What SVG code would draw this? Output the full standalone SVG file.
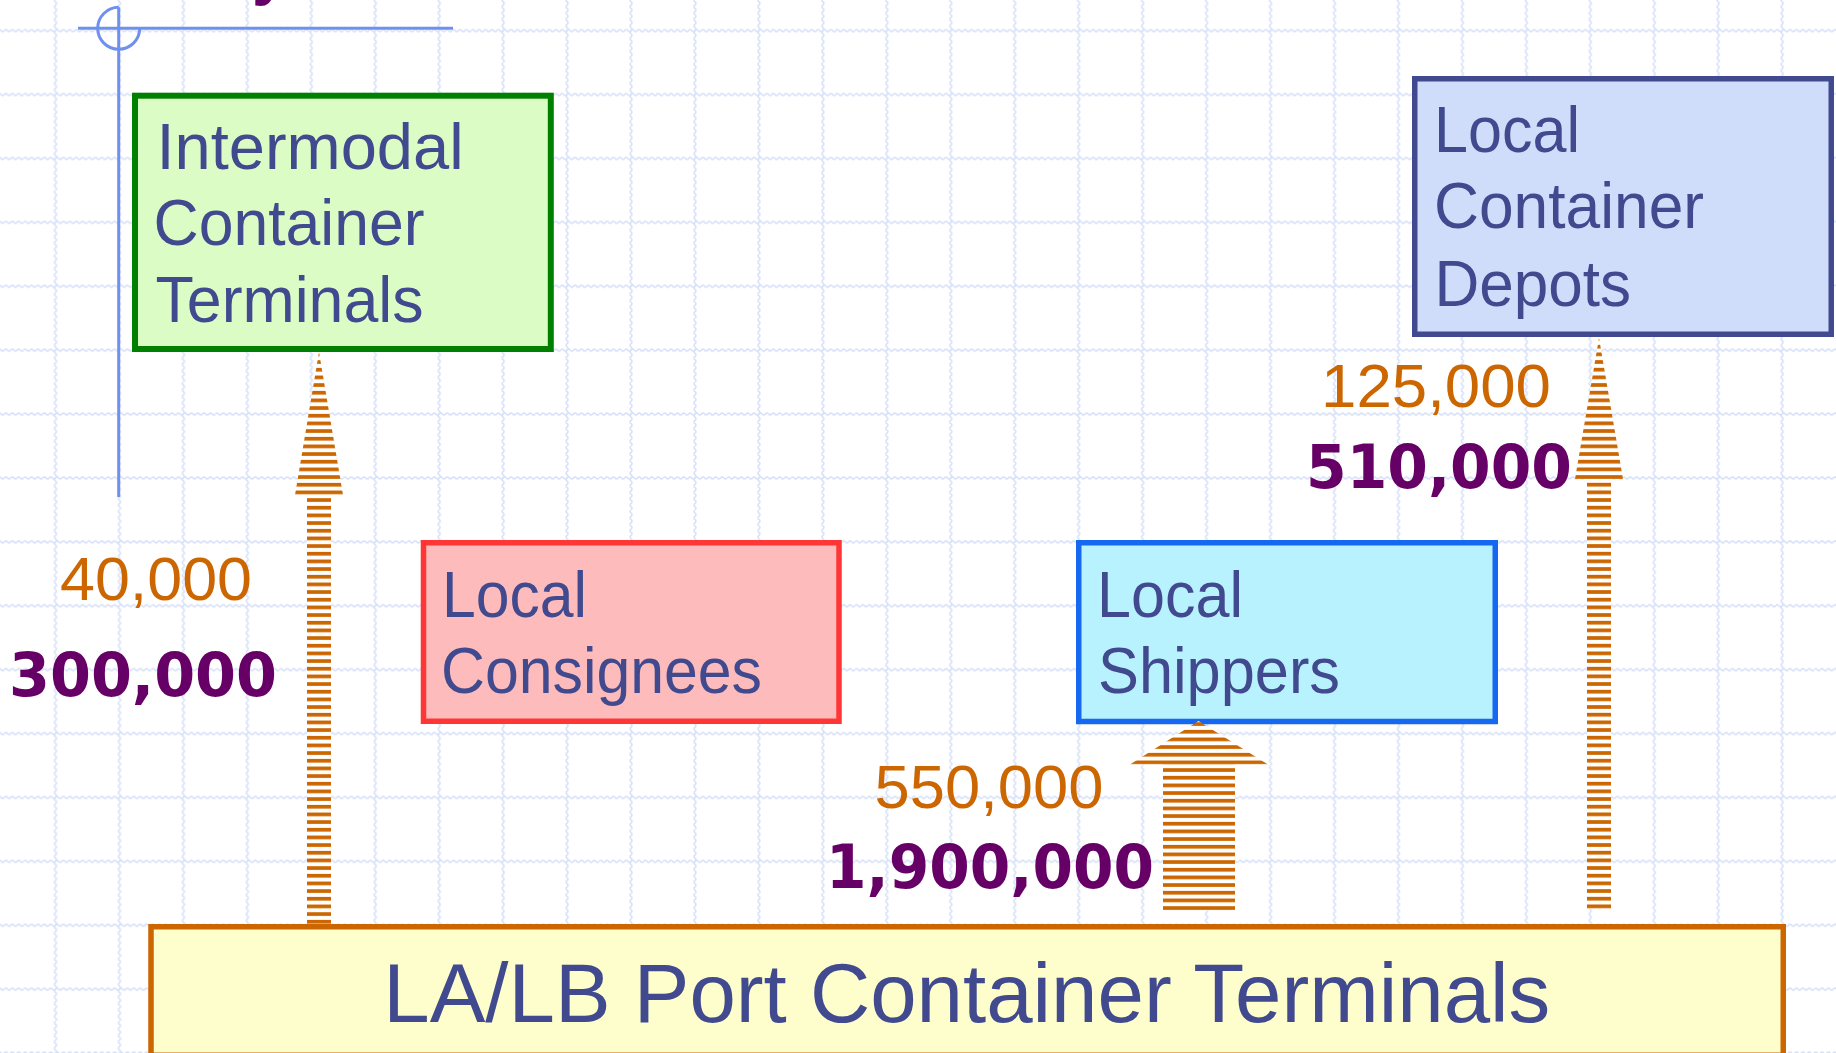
<svg xmlns="http://www.w3.org/2000/svg" width="1836" height="1053" viewBox="0 0 1836 1053">
<style>
.bx{font-family:"Liberation Sans",Arial,sans-serif;font-size:65px;fill:#414A8E}
.port{font-family:"Liberation Sans",Arial,sans-serif;font-size:84px;fill:#414A8E}
.num{font-family:"Liberation Sans",Arial,sans-serif;font-size:62px;fill:#CC6600}
.big{font-family:"DejaVu Sans",Verdana,sans-serif;font-weight:bold;font-size:61px;fill:#660066}
.axis{fill:none;stroke:#7090F0;stroke-width:3}
.node rect{stroke-width:5.5}
</style>
<defs>
<pattern id="grid" patternUnits="userSpaceOnUse" x="23.5" y="-1.3" width="63.95" height="63.9">
<path d="M0,32 q1.6,-2 3.1975,0 t3.1975,0 t3.1975,0 t3.1975,0 t3.1975,0 t3.1975,0 t3.1975,0 t3.1975,0 t3.1975,0 t3.1975,0 t3.1975,0 t3.1975,0 t3.1975,0 t3.1975,0 t3.1975,0 t3.1975,0 t3.1975,0 t3.1975,0 t3.1975,0 t3.1975,0" fill="none" stroke="#D5DFF8" stroke-width="1.5"/>
<path d="M32,0 q-2,1.5975 0,3.195 t0,3.195 t0,3.195 t0,3.195 t0,3.195 t0,3.195 t0,3.195 t0,3.195 t0,3.195 t0,3.195 t0,3.195 t0,3.195 t0,3.195 t0,3.195 t0,3.195 t0,3.195 t0,3.195 t0,3.195 t0,3.195 t0,3.195" fill="none" stroke="#D5DFF8" stroke-width="1.5"/>
</pattern>
<pattern id="st1" patternUnits="userSpaceOnUse" x="0" y="360.2" width="40" height="7.667">
<rect width="40" height="7.667" fill="#FFFFFF"/><rect width="40" height="3.7" fill="#CC6600"/>
</pattern>
<pattern id="st3" patternUnits="userSpaceOnUse" x="0" y="768.2" width="40" height="7.667">
<rect width="40" height="7.667" fill="#FFFFFF"/><rect width="40" height="3.7" fill="#CC6600"/>
</pattern>
<pattern id="st4" patternUnits="userSpaceOnUse" x="0" y="904.5" width="40" height="7.667">
<rect width="40" height="7.667" fill="#FFFFFF"/><rect width="40" height="3.7" fill="#CC6600"/>
</pattern>
</defs>

<rect width="1836" height="1053" fill="#FFFFFF"/>
<rect id="background-grid" width="1836" height="1053" fill="url(#grid)"/>

<g id="title-fragment">
<text x="252" y="-7" style="font-family:'Liberation Sans',Arial,sans-serif;font-weight:bold;font-size:64px;fill:#660066">y</text>
</g>

<g id="axis-decoration">
<line class="axis" x1="118.7" y1="7.3" x2="118.7" y2="497"/>
<line class="axis" x1="78" y1="28.3" x2="453" y2="28.3"/>
<path class="axis" stroke-width="2.4" d="M118.7,7.3 A21,21 0 1,0 139.7,28.3"/>
</g>

<g id="node-intermodal" class="node">
<rect x="135" y="95.7" width="415.8" height="253.3" fill="#DCFCC6" stroke="#008000" style="stroke-width:6"/>
<text class="bx" x="156.5" y="169">Intermodal</text>
<text class="bx" x="153.5" y="245" textLength="271" lengthAdjust="spacingAndGlyphs">Container</text>
<text class="bx" x="155.5" y="321.7" textLength="268" lengthAdjust="spacingAndGlyphs">Terminals</text>
</g>

<g id="node-depots" class="node">
<rect x="1414.75" y="78.75" width="416.5" height="255.5" fill="#CFDCFA" stroke="#414A8E"/>
<text class="bx" x="1434" y="151.7" textLength="146" lengthAdjust="spacingAndGlyphs">Local</text>
<text class="bx" x="1434" y="228" textLength="270" lengthAdjust="spacingAndGlyphs">Container</text>
<text class="bx" x="1434.5" y="306" textLength="196.5" lengthAdjust="spacingAndGlyphs">Depots</text>
</g>

<g id="node-consignees" class="node">
<rect x="423.5" y="542.75" width="415.5" height="178.5" fill="#FDBBBB" stroke="#FF3636"/>
<text class="bx" x="442" y="616.7" textLength="145" lengthAdjust="spacingAndGlyphs">Local</text>
<text class="bx" x="441" y="693.3" textLength="321" lengthAdjust="spacingAndGlyphs">Consignees</text>
</g>

<g id="node-shippers" class="node">
<rect x="1078.75" y="542.75" width="416.5" height="178.75" fill="#B8F2FE" stroke="#1768F0"/>
<text class="bx" x="1097" y="616.7" textLength="146" lengthAdjust="spacingAndGlyphs">Local</text>
<text class="bx" x="1098" y="693.3" textLength="242" lengthAdjust="spacingAndGlyphs">Shippers</text>
</g>

<g id="connectors">
<g id="arrow-intermodal">
<path d="M319,352 L343,495 L331,495 L331,927 L307,927 L307,495 L295,495 Z" fill="url(#st1)"/>
<text class="num" x="60" y="600" textLength="192" lengthAdjust="spacingAndGlyphs">40,000</text>
<text class="big" x="9" y="695.7" textLength="268" lengthAdjust="spacingAndGlyphs">300,000</text>
</g>
<g id="arrow-shippers">
<path d="M1198.5,721 L1268,764.5 L1235,764.5 L1235,910.5 L1163,910.5 L1163,764.5 L1130,764.5 Z" fill="url(#st3)"/>
<text class="num" x="874.5" y="807.7" textLength="229" lengthAdjust="spacingAndGlyphs">550,000</text>
<text class="big" x="826" y="888.3" textLength="328" lengthAdjust="spacingAndGlyphs">1,900,000</text>
</g>
<g id="arrow-depots">
<path d="M1599,338 L1623,479 L1611,479 L1611,909 L1587,909 L1587,479 L1575,479 Z" fill="url(#st4)"/>
<text class="num" x="1321" y="406.7" textLength="230" lengthAdjust="spacingAndGlyphs">125,000</text>
<text class="big" x="1306" y="487.7" textLength="266" lengthAdjust="spacingAndGlyphs">510,000</text>
</g>
</g>

<g id="node-port" class="node">
<rect x="151" y="926.75" width="1632.25" height="128.5" fill="#FEFDCC" stroke="#CC6600"/>
<text class="port" x="383.3" y="1022" textLength="1167" lengthAdjust="spacingAndGlyphs">LA/LB Port Container Terminals</text>
</g>
</svg>
